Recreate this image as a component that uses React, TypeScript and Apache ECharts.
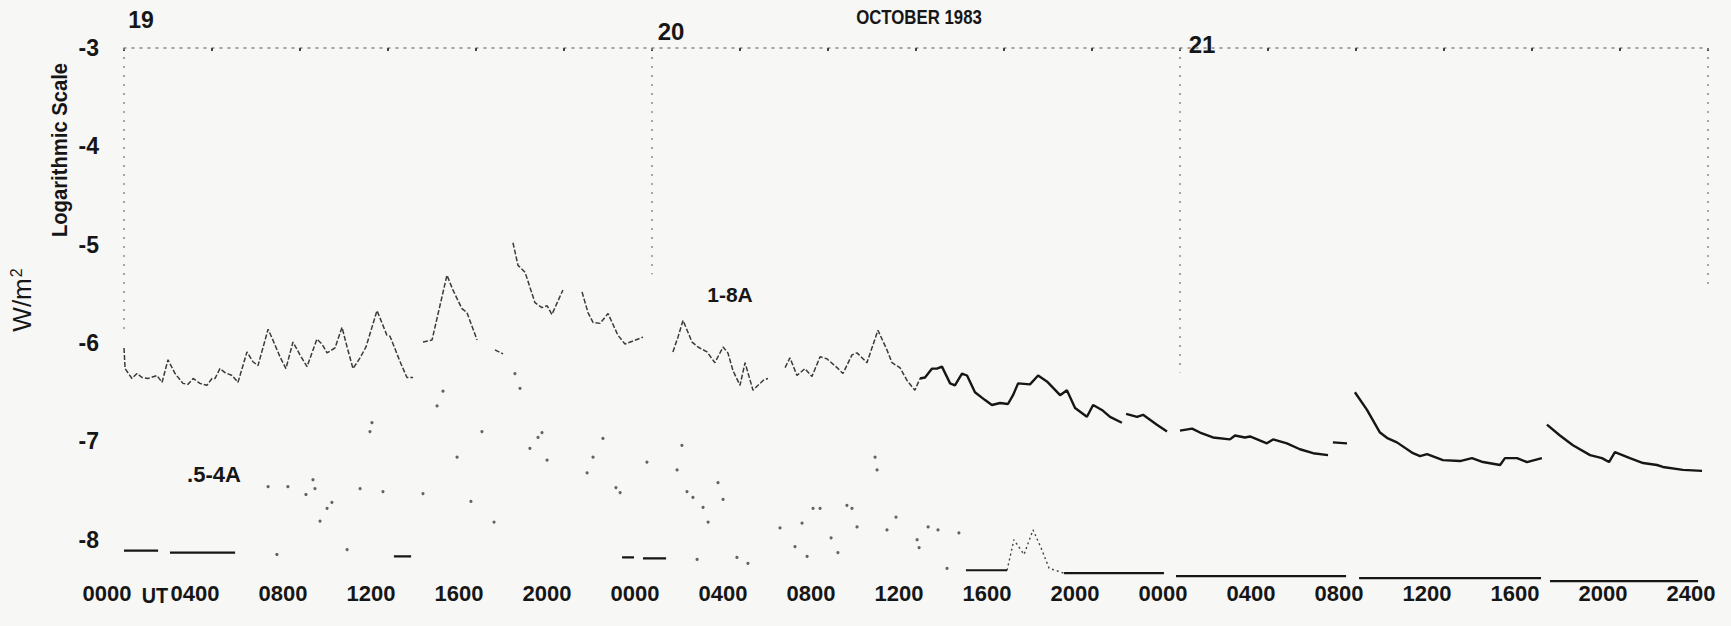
import React, { useEffect, useRef } from "react";
import * as echarts from "echarts";

// ---- data (x = hours since 19 Oct 1983 00 UT, y = log10 flux W/m^2) ----
const timeLabels = [
  "0000", "0400", "0800", "1200", "1600", "2000",
  "0000", "0400", "0800", "1200", "1600", "2000",
  "0000", "0400", "0800", "1200", "1600", "2000", "2400",
];
const yTicks = [-8, -7, -6, -5, -4, -3];
const dayLabels = ["19", "20", "21"];
const dayStartHours = [0, 24, 48, 72];
const dayLineBottoms = [-5.9, -5.3, -6.3, -5.4];

// 1-8 A channel, 19-20 Oct (broken trace)
const flux18Early: (number | null)[][] = [
  [0.0, -6.05], [0.05, -6.26], [0.36, -6.36], [0.59, -6.31], [0.82, -6.35], [1.09, -6.36], [1.5, -6.33], [1.73, -6.4],
  [2.0, -6.17], [2.32, -6.31], [2.68, -6.41], [2.91, -6.42], [3.14, -6.36], [3.45, -6.41], [3.77, -6.43], [4.0, -6.36],
  [4.14, -6.36], [4.36, -6.26], [4.59, -6.3], [4.91, -6.33], [5.18, -6.4], [5.59, -6.09], [5.86, -6.19], [6.09, -6.23],
  [6.55, -5.86], [6.77, -5.97], [7.09, -6.14], [7.36, -6.26], [7.68, -5.99], [8.0, -6.12], [8.32, -6.24], [8.77, -5.96],
  [9.0, -6.01], [9.23, -6.1], [9.59, -6.05], [9.91, -5.84], [10.14, -6.04], [10.41, -6.26], [10.73, -6.15], [11.0, -6.04],
  [11.5, -5.67], [11.95, -5.92], [12.09, -5.93], [12.55, -6.19], [12.86, -6.35], [13.14, -6.35], [13.35, null],
  [13.59, -5.99], [14.0, -5.97], [14.68, -5.31], [14.95, -5.46], [15.36, -5.65], [15.59, -5.69], [16.05, -5.97], [16.4, null],
  [16.86, -6.07], [17.23, -6.11], [17.45, null],
  [17.68, -4.98], [17.91, -5.21], [18.23, -5.28], [18.68, -5.59], [19.0, -5.64], [19.23, -5.62], [19.45, -5.71], [19.95, -5.46], [20.4, null],
  [20.82, -5.48], [21.09, -5.69], [21.32, -5.79], [21.64, -5.8], [22.0, -5.7], [22.45, -5.92], [22.77, -6.01], [23.59, -5.94], [24.3, null],
  [24.95, -6.09], [25.18, -5.94], [25.41, -5.77], [25.82, -5.99], [26.09, -6.04], [26.5, -6.09], [26.86, -6.2], [27.23, -6.04],
  [27.45, -6.1], [27.68, -6.28], [28.0, -6.43], [28.23, -6.2], [28.59, -6.48], [29.05, -6.38], [29.27, -6.36], [29.6, null],
  [30.05, -6.25], [30.27, -6.15], [30.59, -6.33], [30.95, -6.26], [31.27, -6.34], [31.64, -6.14], [31.95, -6.16], [32.41, -6.25],
  [32.68, -6.31], [33.09, -6.12], [33.32, -6.1], [33.77, -6.2], [34.27, -5.87], [34.68, -6.07], [34.91, -6.2], [35.27, -6.25],
  [35.59, -6.38], [35.95, -6.48], [36.18, -6.36],
];

// 1-8 A channel, 20-21 Oct (continuous trace)
const flux18Late: (number | null)[][] = [
  [36.18, -6.36], [36.41, -6.35], [36.73, -6.26], [36.95, -6.26], [37.18, -6.24], [37.55, -6.41], [37.77, -6.43], [38.09, -6.31],
  [38.32, -6.33], [38.68, -6.5], [39.14, -6.58], [39.45, -6.63], [39.82, -6.61], [40.18, -6.62], [40.41, -6.53], [40.64, -6.41],
  [41.18, -6.42], [41.55, -6.33], [41.95, -6.39], [42.55, -6.53], [42.86, -6.48], [43.23, -6.66], [43.77, -6.75], [44.05, -6.63],
  [44.45, -6.68], [44.82, -6.75], [45.36, -6.81], [45.45, null], [45.55, -6.72], [46.05, -6.75], [46.32, -6.73], [46.95, -6.83],
  [47.41, -6.9], [47.7, null], [48.0, -6.89], [48.55, -6.87], [48.91, -6.91], [49.5, -6.96], [50.27, -6.98], [50.5, -6.94],
  [50.95, -6.96], [51.18, -6.95], [51.95, -7.02], [52.23, -6.98], [52.86, -7.02], [53.45, -7.08], [54.05, -7.12], [54.73, -7.14],
  [54.85, null], [54.95, -7.01], [55.59, -7.02], [55.75, null],
  [55.95, -6.5], [56.5, -6.68], [57.09, -6.91], [57.45, -6.97], [57.86, -7.01], [58.59, -7.12], [58.91, -7.15], [59.23, -7.13],
  [59.95, -7.19], [60.73, -7.2], [61.27, -7.17], [61.77, -7.21], [62.55, -7.24], [62.77, -7.17], [63.32, -7.17], [63.77, -7.21],
  [64.45, -7.17], [64.55, null],
  [64.68, -6.83], [65.27, -6.94], [65.86, -7.04], [66.64, -7.14], [67.18, -7.17], [67.5, -7.21], [67.77, -7.11], [68.45, -7.17],
  [69.05, -7.22], [69.68, -7.24], [69.95, -7.26], [70.86, -7.29], [71.73, -7.3],
];

// 0.5-4 A channel, scattered samples 19-20 Oct
const flux054Points: number[][] = [
  [6.55, -7.46], [6.95, -8.15], [7.45, -7.46], [8.27, -7.54], [8.59, -7.39], [8.68, -7.48], [8.91, -7.81], [9.23, -7.68],
  [9.45, -7.62], [10.14, -8.1], [10.73, -7.48], [11.18, -6.9], [11.27, -6.81], [11.77, -7.51], [13.59, -7.53], [14.23, -6.64],
  [14.5, -6.49], [15.14, -7.16], [15.77, -7.61], [16.27, -6.9], [16.82, -7.82], [17.77, -6.31], [18.0, -6.46], [18.45, -7.07],
  [18.82, -6.96], [19.0, -6.91], [19.23, -7.19], [21.05, -7.32], [21.32, -7.16], [21.77, -6.97], [22.36, -7.47], [22.55, -7.52],
  [23.77, -7.21], [25.14, -7.29], [25.36, -7.04], [25.59, -7.51], [25.86, -7.57], [26.05, -8.2], [26.32, -7.67], [26.55, -7.82],
  [27.0, -7.42], [27.23, -7.59], [27.86, -8.18], [28.36, -8.24], [29.82, -7.88], [30.5, -8.07], [30.82, -7.83], [31.05, -8.17],
  [31.32, -7.68], [31.64, -7.68], [32.14, -7.98], [32.45, -8.13], [32.86, -7.65], [33.09, -7.68], [33.32, -7.87], [34.14, -7.16],
  [34.23, -7.29], [34.68, -7.9], [35.09, -7.77], [36.05, -8.0], [36.14, -8.08], [36.55, -7.87], [37.0, -7.9], [37.41, -8.29],
  [37.95, -7.93],
];

// 0.5-4 A channel, small event late on 20 Oct (faint trace)
const flux054Event: number[][] = [
  [40.14, -8.31], [40.45, -8.0], [40.91, -8.15], [41.32, -7.9], [41.68, -8.08], [42.05, -8.29], [42.73, -8.34],
];

// 0.5-4 A channel, detector floor
const flux054Floor: (number | null)[][] = [
  [0, -8.11], [1.55, -8.11], [1.8, null], [2.09, -8.13], [5.05, -8.13], [8, null], [12.27, -8.17], [13.05, -8.17], [18, null],
  [22.64, -8.18], [23.18, -8.18], [23.4, null], [23.59, -8.19], [24.64, -8.19], [30, null],
  [38.27, -8.31], [40.14, -8.31], [40.3, null], [42.73, -8.34],
  [47.27, -8.34], [47.5, null], [47.82, -8.37], [55.55, -8.37], [55.85, null], [56.14, -8.39], [64.41, -8.39], [64.6, null],
  [64.82, -8.42], [71.55, -8.42],
];

// ---- styling ----
const SANS = "'Liberation Sans', Arimo, Arial, Helvetica, sans-serif";
const INK = "#161616";

function txt(text: string, x: number, y: number, size: number, weight: string, opts: any = {}) {
  const { rotation = 0, scaleX = 1, scaleY = 1, extra = {} } = opts;
  return {
    type: "text",
    x,
    y,
    rotation,
    scaleX,
    scaleY,
    silent: true,
    style: {
      text,
      fill: INK,
      fontSize: size,
      fontFamily: SANS,
      fontWeight: weight,
      align: "center",
      verticalAlign: "middle",
      textAlign: "center",
      textVerticalAlign: "middle",
      ...extra,
    },
  };
}

export default function App() {
  const ref = useRef<HTMLDivElement>(null);

  useEffect(() => {
    if (!ref.current) return;
    const chart = echarts.init(ref.current, null, { renderer: "svg" });
    const option: any = {
      animation: false,
      backgroundColor: "#f7f7f6",
      grid: { left: 124, right: 23, top: 48, bottom: 42, outerBoundsMode: "none" },
      xAxis: [
        {
          type: "value",
          min: 0,
          max: 72,
          interval: 4,
          axisLine: { show: false },
          axisTick: { show: false },
          splitLine: { show: false },
          axisLabel: {
            formatter: (v: number) => timeLabels[Math.round(v / 4)] ?? "",
            fontFamily: SANS,
            fontWeight: "bold",
            fontSize: 22,
            color: INK,
            margin: -2,
            padding: [0, 34, 0, 0],
            showMinLabel: true,
            showMaxLabel: true,
            hideOverlap: false,
          },
        },
        {
          type: "value",
          position: "top",
          min: 0,
          max: 72,
          interval: 4,
          axisLine: { show: true, lineStyle: { color: "#8a8a8a", width: 1.5, type: [2, 6] } },
          axisTick: { show: true, inside: true, length: 3, lineStyle: { color: "#444", width: 2 } },
          axisLabel: { show: false },
          splitLine: { show: false },
        },
      ],
      yAxis: {
        type: "value",
        min: -8.45,
        max: -3,
        axisLine: { show: false },
        axisTick: { show: false },
        splitLine: { show: false },
        axisLabel: {
          customValues: yTicks,
          fontFamily: SANS,
          fontWeight: "bold",
          fontSize: 23,
          color: INK,
          margin: 25,
        },
      },
      series: [
        {
          name: "1-8A (19-20 Oct)",
          type: "line",
          data: flux18Early,
          showSymbol: false,
          connectNulls: false,
          lineStyle: { color: "#3a3a3a", width: 1.5, type: [5, 2] },
          silent: true,
          markLine: {
            silent: true,
            symbol: ["none", "none"],
            label: { show: false },
            lineStyle: { color: "#8a8a8a", width: 1.5, type: [2, 7] },
            data: dayStartHours.map((h, i) => [
              { coord: [h, -3] },
              { coord: [h, dayLineBottoms[i]] },
            ]),
          },
        },
        {
          name: "1-8A",
          type: "line",
          data: flux18Late,
          showSymbol: false,
          connectNulls: false,
          lineStyle: { color: INK, width: 2.4 },
          silent: true,
        },
        {
          name: ".5-4A samples",
          type: "scatter",
          data: flux054Points,
          symbolSize: 3.2,
          itemStyle: { color: "#3f3f3f" },
          silent: true,
        },
        {
          name: ".5-4A event",
          type: "line",
          data: flux054Event,
          showSymbol: false,
          lineStyle: { color: "#444", width: 1.4, type: [2, 3] },
          silent: true,
        },
        {
          name: ".5-4A",
          type: "line",
          data: flux054Floor,
          showSymbol: false,
          connectNulls: false,
          lineStyle: { color: INK, width: 2.2 },
          silent: true,
        },
      ],
      graphic: [
        txt(dayLabels[0], 141, 20, 23, "bold"),
        txt(dayLabels[1], 671, 31, 24, "bold"),
        txt(dayLabels[2], 1202, 44, 24, "bold"),
        txt("OCTOBER 1983", 919, 17, 20, "bold", { scaleX: 0.84 }),
        txt("Logarithmic Scale", 59, 150, 22, "bold", { rotation: Math.PI / 2, scaleX: 0.92 }),
        txt("{a|W/m}{s|2}", 22, 300, 26, "normal", {
          rotation: Math.PI / 2,
          extra: {
            rich: {
              a: { fontSize: 26, fontFamily: SANS, fill: INK },
              s: { fontSize: 16, fontFamily: SANS, fill: INK, verticalAlign: "top", padding: [0, 0, 12, 1] },
            },
          },
        }),
        txt("1-8A", 730, 294, 21, "bold"),
        txt(".5-4A", 214, 474, 22, "bold"),
        txt("UT", 155, 595, 22, "bold", { scaleX: 0.9 }),
      ],
    };
    chart.setOption(option);
    return () => chart.dispose();
  }, []);

  return (
    <div
      ref={ref}
      style={{ position: "fixed", left: 0, top: 0, width: 1731, height: 626, background: "#f7f7f6" }}
    />
  );
}
